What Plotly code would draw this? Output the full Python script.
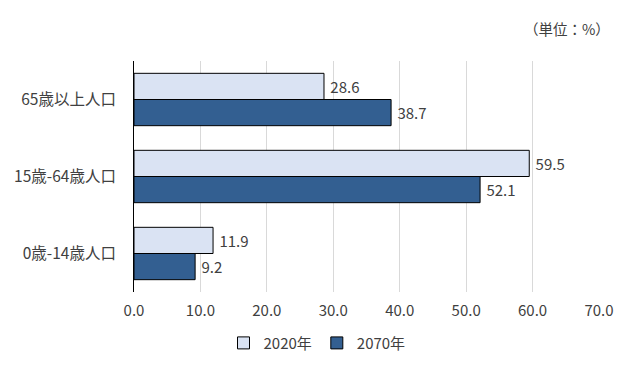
import plotly.graph_objects as go

categories = ["0歳-14歳人口", "15歳-64歳人口", "65歳以上人口"]
values_2020 = [11.9, 59.5, 28.6]
values_2070 = [9.2, 52.1, 38.7]
series_names = ["2020年", "2070年"]
x_ticks = [0, 10, 20, 30, 40, 50, 60, 70]

FONT = "Noto Sans CJK JP"
TXT = "#404040"
FS = 15

fig = go.Figure()
fig.add_trace(go.Bar(
    y=categories, x=values_2070, name=series_names[1], orientation="h",
    marker=dict(color="#335f91", line=dict(color="#000000", width=1)),
    text=[f"{v:.1f}" for v in values_2070], texttemplate=" %{text}", textposition="outside",
    textfont=dict(size=FS, color=TXT, family=FONT), cliponaxis=False,
))
fig.add_trace(go.Bar(
    y=categories, x=values_2020, name=series_names[0], orientation="h",
    marker=dict(color="#dae3f3", line=dict(color="#000000", width=1)),
    text=[f"{v:.1f}" for v in values_2020], texttemplate=" %{text}", textposition="outside",
    textfont=dict(size=FS, color=TXT, family=FONT), cliponaxis=False,
))

fig.update_layout(
    width=634, height=375,
    margin=dict(l=134, r=35, t=61, b=83, autoexpand=False),
    barmode="group", bargap=0.32, bargroupgap=0,
    plot_bgcolor="white", paper_bgcolor="white",
    font=dict(family=FONT, size=FS, color=TXT),
    legend=dict(orientation="h", xref="container", x=0.5, xanchor="center",
                y=-0.15, yanchor="top",
                traceorder="reversed", font=dict(size=FS, color=TXT),
                itemwidth=30, tracegroupgap=0),
    xaxis=dict(range=[0, 70], tickvals=x_ticks, ticktext=[f"{t:.1f}" for t in x_ticks],
               showgrid=True, gridcolor="#d9d9d9", gridwidth=1, zeroline=False,
               showline=False, ticks="", tickfont=dict(size=FS, color=TXT),
               ticklabelstandoff=8, automargin=False),
    yaxis=dict(showline=True, linecolor="#000000", linewidth=1, ticks="",
               tickfont=dict(size=15.5, color=TXT), ticklabelstandoff=14, automargin=False),
    annotations=[dict(text="（単位：%）", x=1.0, xref="paper", y=1.0, yref="paper",
                      xanchor="right", yanchor="bottom", yshift=20, xshift=13,
                      showarrow=False, font=dict(size=14.5, color=TXT))],
)

fig.write_html("out.html", config={"displayModeBar": False},
               post_script="document.body.style.margin='0';")
